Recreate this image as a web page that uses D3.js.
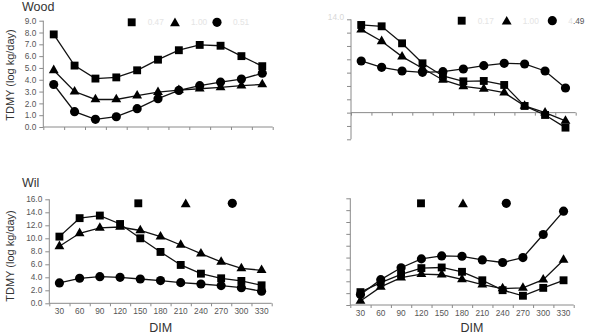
<!DOCTYPE html>
<html><head><meta charset="utf-8">
<script src="https://cdn.jsdelivr.net/npm/d3@7"></script>
<style>body{margin:0;background:#fff}svg text{font-family:"Liberation Sans",Arial,sans-serif}</style>
</head><body><svg id="c" width="589" height="336"></svg>
<script>
// ---- data ----
const dim = [30, 60, 90, 120, 150, 180, 210, 240, 270, 300, 330];

const woodLeftSquare   = [7.84, 5.2, 4.1, 4.2, 4.8, 5.7, 6.5, 6.95, 6.88, 6.0, 5.15];
const woodLeftTriangle = [4.8, 3.0, 2.33, 2.33, 2.65, 2.95, 3.12, 3.24, 3.36, 3.5, 3.6];
const woodLeftCircle   = [3.6, 1.3, 0.65, 0.87, 1.55, 2.4, 3.1, 3.5, 3.8, 4.06, 4.55];

const woodRightSquare   = [13.15, 12.95, 10.4, 7.4, 5.5, 4.7, 4.75, 4.15, 1.0, -0.35, -2.25];
const woodRightTriangle = [12.45, 10.7, 8.4, 6.65, 4.9, 3.95, 3.55, 3.0, 1.0, 0.0, -1.25];
const woodRightCircle   = [7.75, 6.8, 6.25, 6.05, 6.15, 6.55, 7.05, 7.4, 7.3, 6.25, 3.7];

const wilLeftSquare   = [10.26, 13.1, 13.5, 12.2, 10.0, 7.9, 5.9, 4.56, 3.85, 3.44, 2.77];
const wilLeftTriangle = [8.77, 10.77, 11.6, 11.74, 11.2, 10.26, 8.97, 7.64, 6.36, 5.38, 5.08];
const wilLeftCircle   = [3.13, 3.85, 4.1, 4.0, 3.74, 3.49, 3.18, 2.97, 2.72, 2.41, 1.85];

const wilRightSquare   = [2.17, 3.78, 5.17, 6.22, 6.33, 5.6, 4.17, 2.5, 1.56, 2.89, 4.17];
const wilRightTriangle = [0.67, 3.06, 4.6, 5.2, 5.1, 4.33, 3.44, 2.78, 2.89, 4.28, 7.6];
const wilRightCircle   = [1.78, 4.28, 6.28, 7.78, 8.28, 8.22, 7.6, 7.17, 8.0, 11.9, 15.83];

const woodLeftTicks  = [0,1,2,3,4,5,6,7,8,9];
const woodRightTicks = [-4,-2,0,2,4,6,8,10,12,14];
const wilLeftTicks   = [0,2,4,6,8,10,12,14,16];
const wilRightTicks  = [0,2,4,6,8,10,12,14,16,18];

const legendLabelsWoodLeft  = ["0.47", "1.00", "0.51"];
const legendLabelsWoodRight = ["0.17", "1.00", "4.49"];

const titles = ["Wood", "Wil"];
const yTitle = "TDMY (log kg/day)";
const xTitle = "DIM";

// ---- drawing ----
const svg = d3.select("#c");
const fmt = d3.format(".1f");

const panels = [
  {sq: woodLeftSquare, tri: woodLeftTriangle, cir: woodLeftCircle, ticks: woodLeftTicks,
   x0: 43.3, x1: 272.7, yTop: 20.7, yBot: 127, yLabels: true, xLabels: false, xAt: 0,
   leg: [131.7, 175, 217], legY: 22.3, legText: legendLabelsWoodLeft, legFaint: [true,true,true]},
  {sq: woodRightSquare, tri: woodRightTriangle, cir: woodRightCircle, ticks: woodRightTicks,
   x0: 351, x1: 575.7, yTop: 19.3, yBot: 139.3, yLabels: false, xLabels: false, xAt: 0, topFaint: true,
   leg: [461.7, 506.7, 552.3], legY: 20.7, legText: legendLabelsWoodRight, legFaint: [true,true,false]},
  {sq: wilLeftSquare, tri: wilLeftTriangle, cir: wilLeftCircle, ticks: wilLeftTicks,
   x0: 49.3, x1: 271.7, yTop: 199.3, yBot: 303.3, yLabels: true, xLabels: true, xAt: 0,
   leg: [138.3, 185.7, 232.3], legY: 203.3},
  {sq: wilRightSquare, tri: wilRightTriangle, cir: wilRightCircle, ticks: wilRightTicks,
   x0: 350.3, x1: 573.7, yTop: 198.3, yBot: 305, yLabels: false, xLabels: true, xAt: 0,
   leg: [421, 463, 506.3], legY: 203.3}
];

const axisColor = "#8a8a8a";
const sym = {
  sq: d3.symbol().type(d3.symbolSquare).size(62),
  tri: d3.symbol().type(d3.symbolTriangle).size(42),
  cir: d3.symbol().type(d3.symbolCircle).size(66)
};

panels.forEach(p => {
  const g = svg.append("g");
  const x = d3.scaleBand().domain(dim).range([p.x0, p.x1]);
  const xb = d3.scaleLinear().domain([0, dim.length]).range([p.x0, p.x1]);
  const y = d3.scaleLinear().domain([p.ticks[0], p.ticks[p.ticks.length-1]]).range([p.yBot, p.yTop]);
  const cx = d => x(d) + x.bandwidth()/2;

  // y axis
  const ya = g.append("g").attr("transform", `translate(${p.x0},0)`)
    .call(d3.axisLeft(y).tickValues(p.ticks).tickSize(4).tickPadding(3)
      .tickFormat(p.yLabels ? fmt : ""));
  ya.selectAll("path,line").attr("stroke", axisColor);
  ya.select(".domain").attr("d", `M0,${p.yBot}V${p.yTop}`);
  ya.selectAll("text").attr("font-size", 8.3).attr("fill", "#555")
    .attr("font-family", "Liberation Sans, Arial, sans-serif");
  if (p.topFaint) {
    g.append("text").attr("x", p.x0 - 7).attr("y", y(p.ticks[p.ticks.length-1]) + 1)
      .attr("text-anchor", "end").attr("font-size", 8.3).attr("fill", "#d8d8d8")
      .text(fmt(p.ticks[p.ticks.length-1]));
  }

  // x axis (ticks at band boundaries)
  const xa = g.append("g").attr("transform", `translate(0,${y(p.xAt)})`)
    .call(d3.axisBottom(xb).tickValues(d3.range(dim.length+1)).tickSize(3).tickFormat(""));
  xa.selectAll("path,line").attr("stroke", axisColor);
  xa.select(".domain").attr("d", `M${p.x0},0H${p.x1}`);
  if (p.xLabels) {
    const xl = g.append("g").attr("transform", `translate(0,${y(p.xAt)})`)
      .call(d3.axisBottom(x).tickSize(0).tickPadding(5));
    xl.select(".domain").remove();
    xl.selectAll("text").attr("font-size", 8.3).attr("fill", "#555")
      .attr("font-family", "Liberation Sans, Arial, sans-serif");
  }

  // series
  [["sq", p.sq], ["tri", p.tri], ["cir", p.cir]].forEach(([k, vals]) => {
    const pts = dim.map((d, i) => [cx(d), y(vals[i])]);
    g.append("path").attr("d", d3.line()(pts)).attr("fill", "none")
      .attr("stroke", "#111").attr("stroke-width", 1.3);
    g.selectAll(null).data(pts).enter().append("path")
      .attr("d", sym[k]()).attr("transform", d => `translate(${d[0]},${d[1]})`)
      .attr("fill", "#000");
  });

  // legend
  ["sq", "tri", "cir"].forEach((k, i) => {
    g.append("path").attr("d", sym[k]()).attr("fill", "#000")
      .attr("transform", `translate(${p.leg[i]},${p.legY + (k === "tri" ? 1 : 0)})`);
    if (p.legText) {
      const t = g.append("text").attr("x", p.leg[i] + 16).attr("y", p.legY + 3)
        .attr("font-size", 8.3);
      if (p.legFaint[i]) {
        t.attr("fill", "#e4e4e4").text(p.legText[i]);
      } else {
        t.append("tspan").attr("fill", "#e4e4e4").text(p.legText[i].slice(0,1));
        t.append("tspan").attr("fill", "#555").text(p.legText[i].slice(1));
      }
    }
  });
});

// titles
svg.append("text").attr("x", 22).attr("y", 11).attr("font-size", 12.5).attr("fill", "#333").text(titles[0]);
svg.append("text").attr("x", 22).attr("y", 187).attr("font-size", 12.5).attr("fill", "#333").text(titles[1]);

// y titles
[75, 256].forEach(cy => {
  svg.append("text").attr("transform", `translate(14,${cy}) rotate(-90)`)
    .attr("text-anchor", "middle").attr("font-size", 11).attr("fill", "#333").text(yTitle);
});
// x titles
[160.7, 472].forEach(cxp => {
  svg.append("text").attr("x", cxp).attr("y", 332).attr("text-anchor", "middle")
    .attr("font-size", 12.5).attr("fill", "#333").text(xTitle);
});
</script></body></html>
